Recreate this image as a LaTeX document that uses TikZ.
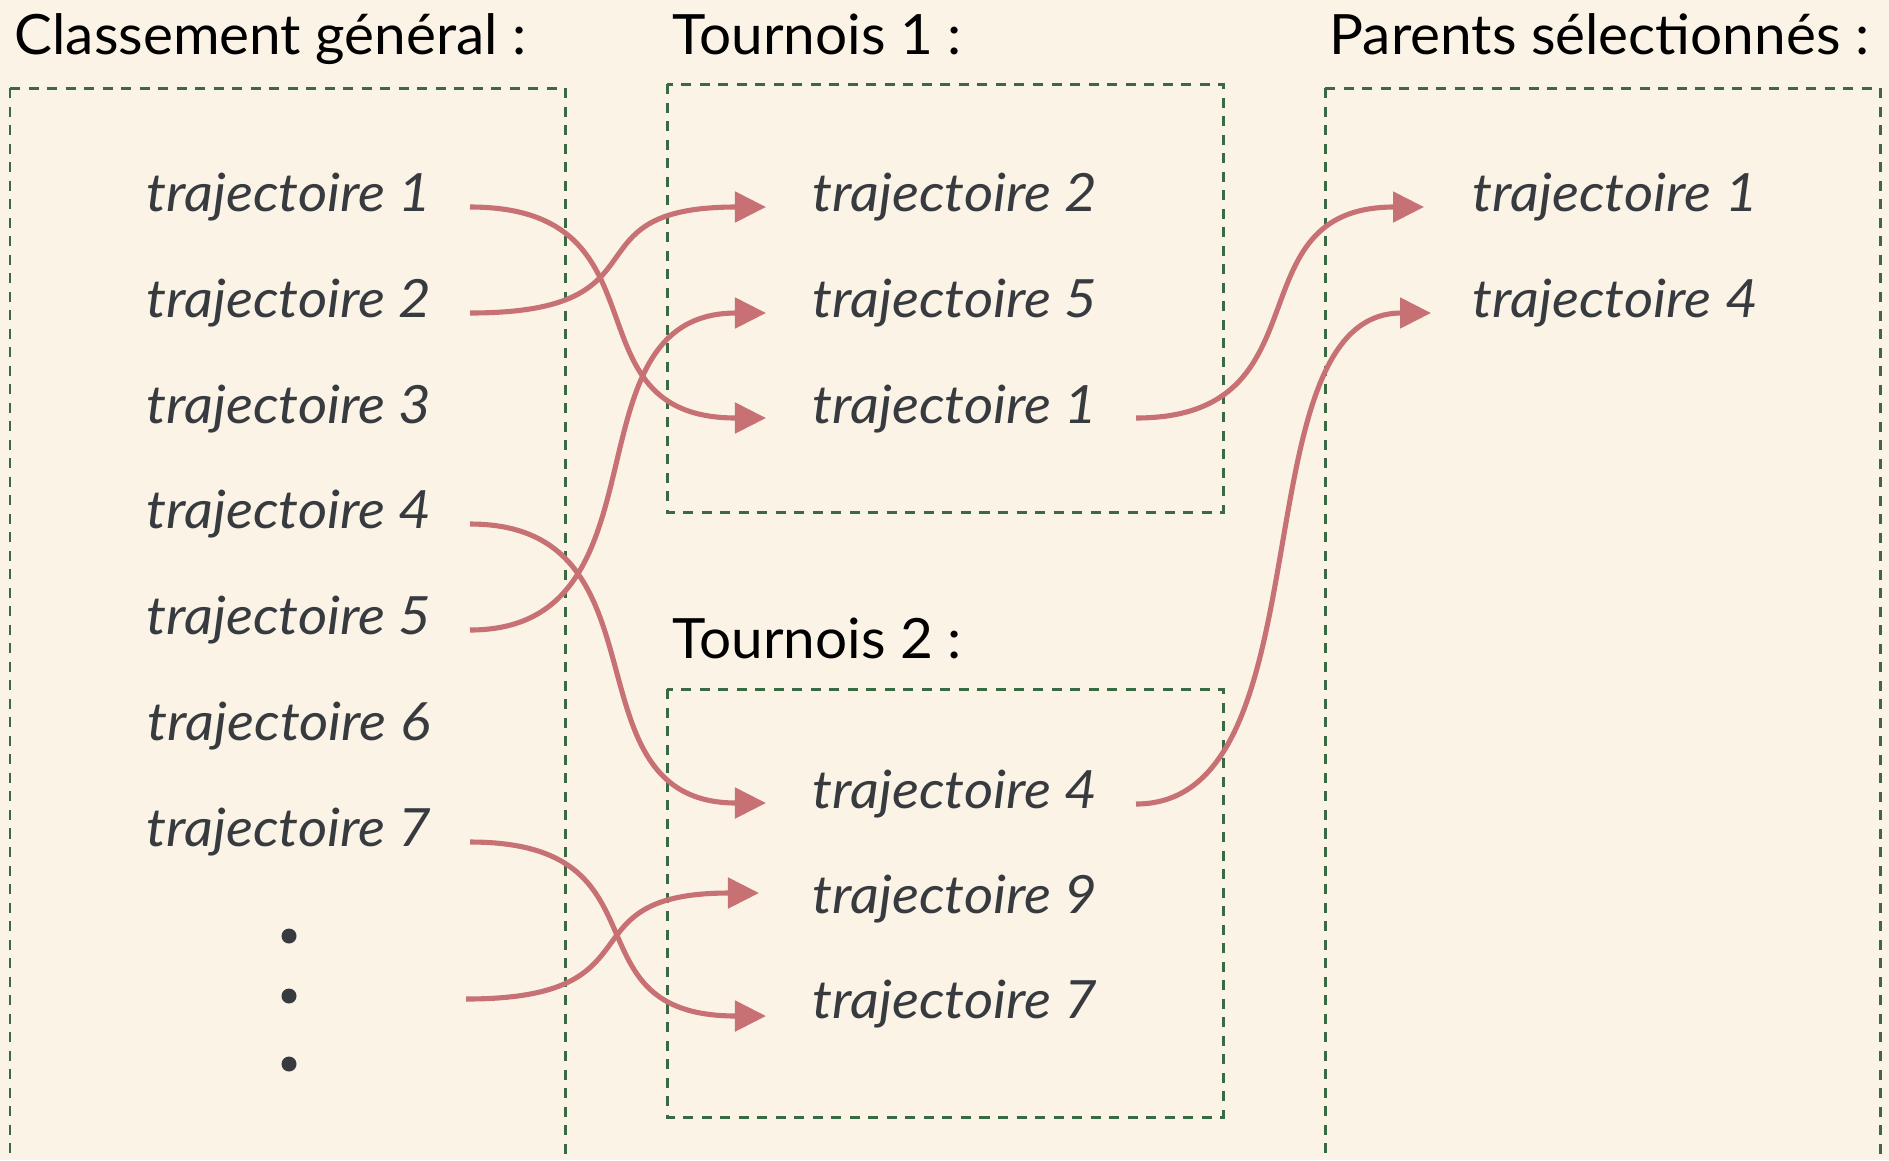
\documentclass[tikz,border=0pt]{standalone}
\usepackage{fontspec}
\setmainfont{Lato}
\newfontfamily\itemfont[FakeStretch=1.07]{Lato Italic}
\newfontfamily\headfont[FakeStretch=1.02]{Lato}
\usetikzlibrary{arrows.meta}

\definecolor{paper}{HTML}{FAF3E6}
\definecolor{frame}{HTML}{3A6A43}
\definecolor{link}{HTML}{C77174}
\definecolor{ink}{HTML}{373B3F}

\tikzset{
  title/.style={anchor=base west, inner sep=0pt, text=black,
    font=\headfont\fontsize{15.8}{18}\selectfont},
  item/.style={anchor=base, inner sep=0pt, text=ink,
    font=\itemfont\fontsize{15}{18}\selectfont},
  group/.style={draw=frame, line width=0.85pt, dash pattern=on 0.1cm off 0.085cm},
  pick/.style={draw=link, line width=1.45pt,
    -{Triangle[length=0.31cm, width=0.30cm]}},
  ellipsis/.style={circle, fill=ink, inner sep=0pt, minimum size=0.15cm},
}

\begin{document}
\begin{tikzpicture}[x=0.01cm, y=-0.01cm]
  \useasboundingbox (0,0) rectangle (1889,1160);
  \clip (0,0) rectangle (1889,1160);
  \fill[paper] (0,0) rectangle (1889,1160);

  % headings
  \node[title] (hAll)  at (14,54)   {Classement général :};
  \node[title] (hT1)   at (672,54)  {Tournois 1 :};
  \node[title] (hPar)  at (1329,54) {Parents sélectionnés :};
  \node[title] (hT2)   at (672,658) {Tournois 2 :};

  % dashed frames
  \draw[group] (10,88) -- (565,88) -- (565,1200);
  \draw[group] (10,88) -- (10,1200);
  \draw[group] (667,84) rectangle (1223,512);
  \draw[group] (667,689) rectangle (1223,1117);
  \draw[group] (1325,88) -- (1880,88) -- (1880,1200);
  \draw[group] (1325,88) -- (1325,1200);

  % overall ranking
  \node[item] (r1) at (289,211) {trajectoire 1};
  \node[item] (r2) at (289,317) {trajectoire 2};
  \node[item] (r3) at (289,423) {trajectoire 3};
  \node[item] (r4) at (289,528) {trajectoire 4};
  \node[item] (r5) at (289,634) {trajectoire 5};
  \node[item] (r6) at (289,740) {trajectoire 6};
  \node[item] (r7) at (289,846) {trajectoire 7};
  \node[ellipsis] (d1) at (289,936) {};
  \node[ellipsis] (d2) at (289,996) {};
  \node[ellipsis] (d3) at (289,1064) {};

  % tournament 1
  \node[item] (a1) at (955,211) {trajectoire 2};
  \node[item] (a2) at (955,317) {trajectoire 5};
  \node[item] (a3) at (955,423) {trajectoire 1};

  % tournament 2
  \node[item] (b1) at (955,808)  {trajectoire 4};
  \node[item] (b2) at (955,913)  {trajectoire 9};
  \node[item] (b3) at (955,1018) {trajectoire 7};

  % selected parents
  \node[item, anchor=base west] (p1) at (1472,211) {trajectoire 1};
  \node[item, anchor=base west] (p2) at (1472,317) {trajectoire 4};

  % connector ports
  \coordinate (o1) at (470,207);
  \coordinate (o2) at (470,313);
  \coordinate (o4) at (470,524);
  \coordinate (o5) at (470,630);
  \coordinate (o7) at (470,842);
  \coordinate (od) at (466,999);
  \coordinate (ia1) at (766,207);
  \coordinate (ia2) at (766,313);
  \coordinate (ia3) at (766,418);
  \coordinate (ib1) at (766,803);
  \coordinate (ib2) at (759,893);
  \coordinate (ib3) at (766,1016);
  \coordinate (oa3) at (1136,418);
  \coordinate (ob1) at (1136,804);
  \coordinate (ip1) at (1424,207);
  \coordinate (ip2) at (1431,313);

  % draws into tournaments
  \draw[pick] (o1) .. controls +(205,0) and +(-205,0) .. (ia3);
  \draw[pick] (o2) .. controls +(205,0) and +(-205,0) .. (ia1);
  \draw[pick] (o5) .. controls +(205,0) and +(-205,0) .. (ia2);
  \draw[pick] (o4) .. controls +(205,0) and +(-205,0) .. (ib1);
  \draw[pick] (o7) .. controls +(205,0) and +(-205,0) .. (ib3);
  \draw[pick] (od) .. controls +(200,0) and +(-200,0) .. (ib2);

  % tournament winners
  \draw[pick] (oa3) .. controls +(195,0) and +(-195,0) .. (ip1);
  \draw[pick] (ob1) .. controls +(195,0) and +(-195,0) .. (ip2);
\end{tikzpicture}
\end{document}
